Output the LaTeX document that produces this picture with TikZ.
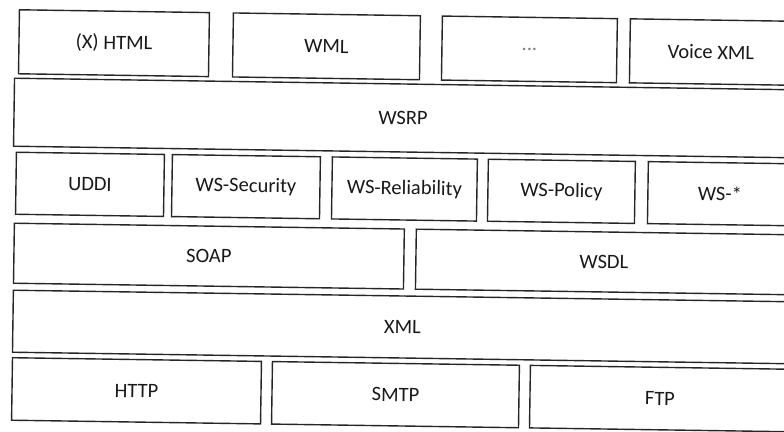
\documentclass[tikz,border=0pt]{standalone}
\usepackage{fontspec}
\setmainfont{Carlito}
\begin{document}
\begin{tikzpicture}[x=1pt,y=-1pt,
  layer/.style={draw=black!85, line width=1.4pt, inner sep=0pt, text=black!90,
    font=\fontsize{20.5}{24}\selectfont},
]
\useasboundingbox (0,0) rectangle (784,431);
\clip (0,0) rectangle (784,431);
\begin{scope}[rotate=-0.85, transform shape]
% row 1
\node[layer, minimum width=190pt, minimum height=64pt] (html) at (114.6,41.5) {(X) HTML};
\node[layer, minimum width=187pt, minimum height=64pt] (wml) at (327.1,41.5) {WML};
\node[layer, minimum width=175pt, minimum height=64pt] (dots) at (530.1,41.5) {\textcolor{gray}{...}};
\node[layer, minimum width=162pt, minimum height=64pt] (voice) at (711.6,41.5) {Voice XML};
% row 2
\node[layer, minimum width=778pt, minimum height=68pt] (wsrp) at (404.7,112) {WSRP};
% row 3
\node[layer, minimum width=148pt, minimum height=62pt] (uddi) at (92.7,183) {UDDI};
\node[layer, minimum width=148pt, minimum height=62pt] (wssec) at (248.7,183) {WS-Security};
\node[layer, minimum width=145pt, minimum height=62pt] (wsrel) at (407.2,183) {WS-Reliability};
\node[layer, minimum width=147pt, minimum height=62pt] (wspol) at (564.2,183) {WS-Policy};
\node[layer, minimum width=144pt, minimum height=62pt] (wsany) at (722.7,183) {WS-*};
% row 4
\node[layer, minimum width=390pt, minimum height=60pt] (soap) at (212.7,253) {SOAP};
\node[layer, minimum width=376pt, minimum height=60pt] (wsdl) at (607.7,253) {WSDL};
% row 5
\node[layer, minimum width=779pt, minimum height=62pt] (xml) at (407.2,321) {XML};
% row 6
\node[layer, minimum width=249pt, minimum height=62.5pt] (http) at (142.3,388.75) {HTTP};
\node[layer, minimum width=247pt, minimum height=62.5pt] (smtp) at (401.3,388.75) {SMTP};
\node[layer, minimum width=260pt, minimum height=62.5pt] (ftp) at (665.8,388.75) {FTP};
\end{scope}
\end{tikzpicture}
\end{document}
